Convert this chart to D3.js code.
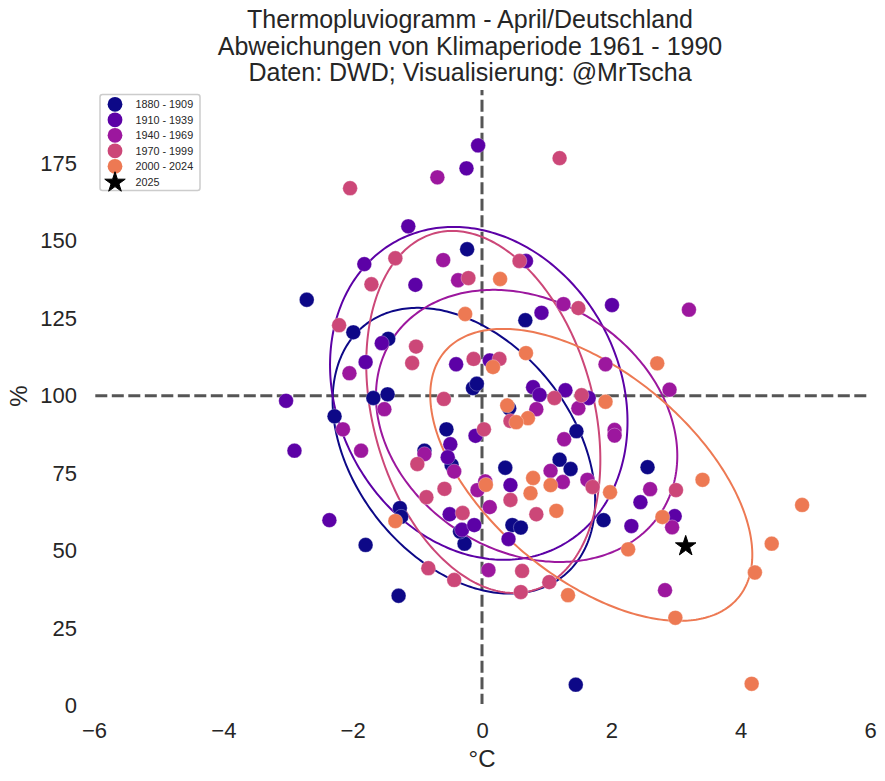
<!DOCTYPE html>
<html>
<head>
<meta charset="utf-8">
<script src="https://d3js.org/d3.v7.min.js"></script>
<style>
  body { margin: 0; background: white; }
  text { font-family: "Liberation Sans", Arial, sans-serif; fill: #262626; }
</style>
</head>
<body>
<script>
// April temperature (deg C) and precipitation (%) anomalies
var labels = ["1880 - 1909", "1910 - 1939", "1940 - 1969", "1970 - 1999", "2000 - 2024"];
var colors = ["#0d0887", "#5c01a6", "#9c179e", "#cc4778", "#ed7953"];

var temp1880 = [1.45, -1.29, -1.80, -1.27, -1.25, -2.28, -1.68, -1.46, -0.89, -0.55, -0.47, -0.14, -0.08, -0.27, -0.34, -0.23, 0.67, -1.99, -1.45, -2.71, 0.42, 1.46, 0.36, 1.20, 1.37, 2.56, 1.88, 0.47, 0.60];
var prec1880 = [6.8, 35.5, 51.9, 63.8, 61, 93.4, 99.3, 100.5, 82.3, 89.2, 77.7, 102.5, 103.9, 52.3, 56.2, 147.3, 124.4, 120.5, 118.4, 131, 96, 88.6, 76.8, 79.4, 76.4, 77, 59.9, 58.3, 57.5];

var temp1910 = [-0.06, -0.24, -1.14, -1.82, -1.03, 0.68, 0.92, 2.01, -1.55, -1.80, -3.03, -2.36, -2.90, -0.40, 0.12, -0.10, -0.49, -0.53, -0.50, -0.31, -0.12, 0.44, 0.41, 0.79, 0.89, 1.29, 1.65, 2.45, 2.31, 2.98];
var prec1910 = [180.8, 173.4, 154.7, 142.5, 135.8, 143.5, 126.8, 129.3, 117, 110.9, 98.4, 59.9, 82.3, 110.2, 111.4, 87.1, 84.4, 80.2, 61.8, 56.8, 58.3, 71.2, 53.8, 102.8, 100.3, 101.8, 99.3, 65.7, 58, 61.2];

var temp1940 = [-0.69, -0.60, -0.37, 1.26, 3.20, 2.90, 1.91, -2.05, -1.51, -2.15, -1.87, -0.89, -0.43, -0.07, 0.05, 0.12, 0.10, 0.84, 1.49, 1.27, 2.05, 2.05, 1.06, 1.25, 1.63, 2.60, 2.94, 2.83];
var prec1940 = [170.5, 143.8, 137.3, 129.6, 127.8, 102, 110.2, 107.3, 95.7, 89.2, 82.3, 81.2, 75.6, 69.6, 72.4, 64.1, 43.8, 95.7, 96, 86, 89, 87.2, 75.8, 72.2, 72.9, 69.9, 57.6, 37.3];

var temp1970 = [-2.04, 1.20, -1.71, -1.34, -0.21, 0.58, 1.49, -2.21, -1.02, -1.08, -0.13, -0.59, 0.03, -1.00, -0.58, -0.86, -0.30, -0.83, -0.43, 0.27, 1.12, 1.54, 0.44, 0.44, 0.84, 0.62, 0.60, 1.04, 1.71, 3.00];
var prec1970 = [167, 176.7, 136, 144.4, 138, 143.5, 128.3, 122.8, 115.9, 110.6, 111.9, 99, 89.2, 78, 70, 67.3, 62.2, 44.4, 40.6, 111.9, 99.3, 100.2, 91.9, 66.4, 61.8, 43.5, 36.7, 39.9, 70.6, 69.6];

var temp2000 = [0.28, -0.26, 2.71, 0.68, 0.17, 0.39, 1.91, 0.71, 0.53, 0.06, 0.79, 0.75, 1.06, 1.15, 1.98, 2.79, 2.26, 1.33, 3.41, 4.95, 4.48, 4.22, 4.17, 2.99, -1.34];
var prec2000 = [137.7, 126.4, 110.5, 113.8, 109.3, 96.9, 98.1, 92.8, 91.5, 71.3, 73.5, 68.6, 71.2, 62.9, 68.9, 60.9, 50.5, 35.7, 72.9, 64.8, 52.3, 43, 7.1, 28.4, 59.6];

var temp2025 = [3.15];
var prec2025 = [51.5];

// ellipse centre, spread and correlation per period
var ellMeanT = [-0.28, -0.05, 0.69, 0.02, 1.69];
var ellMeanP = [82.3, 100.8, 90.3, 94.8, 74.5];
var ellSpreadT = [2.03, 2.30, 2.33, 1.81, 2.49];
var ellSpreadP = [46.1, 53.7, 43.9, 58.4, 47.1];
var ellRho = [-0.35, -0.17, -0.22, -0.265, -0.547];

var xTicks = [-6, -4, -2, 0, 2, 4, 6];
var yTicks = [0, 25, 50, 75, 100, 125, 150, 175];
var titleLines = ["Thermopluviogramm - April/Deutschland", "Abweichungen von Klimaperiode 1961 - 1990", "Daten: DWD; Visualisierung: @MrTscha"];

var temps = [temp1880, temp1910, temp1940, temp1970, temp2000];
var precs = [prec1880, prec1910, prec1940, prec1970, prec2000];

var w = 885, h = 781;

var svg = d3.select("body").append("svg")
    .attr("width", w)
    .attr("height", h);

var x = d3.scaleLinear().domain([-6, 6]).range([94, 870]);
var y = d3.scaleLinear().domain([-2, 199]).range([712, 89]);

// Draw axes without spines
var xAxis = svg.append("g")
    .attr("transform", "translate(0," + y(-2) + ")")
    .call(d3.axisBottom(x).tickValues(xTicks).tickSize(0).tickPadding(10));
var yAxis = svg.append("g")
    .attr("transform", "translate(" + x(-6) + ",0)")
    .call(d3.axisLeft(y).tickValues(yTicks).tickSize(0).tickPadding(17));
xAxis.select(".domain").remove();
yAxis.select(".domain").remove();
svg.selectAll(".tick text").style("font-size", "22px").style("font-family", null);

// Draw dashed zero lines
svg.append("line")
    .attr("x1", x(-6)).attr("x2", x(6))
    .attr("y1", y(100)).attr("y2", y(100))
    .attr("stroke", "#555555")
    .attr("stroke-width", 3)
    .attr("stroke-dasharray", "12,4.5")
    .attr("stroke-dashoffset", 15.2);
svg.append("line")
    .attr("x1", x(0)).attr("x2", x(0))
    .attr("y1", 90).attr("y2", 704)
    .attr("stroke", "#555555")
    .attr("stroke-width", 3)
    .attr("stroke-dasharray", "12,4.5")
    .attr("stroke-dashoffset", 6.8);

// Draw ellipses, points go on top of them
var ellipseLine = d3.line();

function ellipsePath(i) {
    var rho = ellRho[i];
    var pts = d3.range(0, 2 * Math.PI + 0.02, 0.02).map(function(t) {
        return [
            x(ellMeanT[i] + ellSpreadT[i] * Math.cos(t)),
            y(ellMeanP[i] + ellSpreadP[i] * (rho * Math.cos(t) + Math.sqrt(1 - rho * rho) * Math.sin(t)))
        ];
    });
    return ellipseLine(pts);
}

labels.forEach(function(label, i) {
    svg.append("path")
        .attr("d", ellipsePath(i))
        .attr("fill", "none")
        .attr("stroke", colors[i])
        .attr("stroke-width", 2);
});

labels.forEach(function(label, i) {
    svg.append("g").selectAll("circle")
        .data(temps[i])
        .enter().append("circle")
        .attr("cx", function(d) { return x(d); })
        .attr("cy", function(d, j) { return y(precs[i][j]); })
        .attr("r", 7.4)
        .attr("fill", colors[i])
        .attr("stroke", "white")
        .attr("stroke-width", 0.3);
});

// Draw 2025 star
var star = d3.symbol().type(d3.symbolStar).size(130);
svg.append("path")
    .attr("d", star())
    .attr("transform", "translate(" + x(temp2025[0]) + "," + y(prec2025[0]) + ")")
    .attr("fill", "black")
    .attr("stroke", "black")
    .attr("stroke-width", 1);

// Draw titles and axis labels
svg.selectAll(".title")
    .data(titleLines)
    .enter().append("text")
    .attr("class", "title")
    .attr("x", 470)
    .attr("y", function(d, i) { return 28 + i * 26.7; })
    .attr("text-anchor", "middle")
    .style("font-size", "25px")
    .text(function(d) { return d; });

svg.append("text")
    .attr("x", 482)
    .attr("y", 767)
    .attr("text-anchor", "middle")
    .style("font-size", "24px")
    .text("°C");

svg.append("text")
    .attr("transform", "translate(27,396) rotate(-90)")
    .attr("text-anchor", "middle")
    .style("font-size", "24px")
    .text("%");

// Draw legend
svg.append("rect")
    .attr("x", 100).attr("y", 94.5)
    .attr("width", 100).attr("height", 96)
    .attr("rx", 2.5)
    .attr("fill", "white")
    .attr("stroke", "#cccccc")
    .attr("stroke-width", 1.5);

labels.forEach(function(label, i) {
    svg.append("circle")
        .attr("cx", 115)
        .attr("cy", 104.3 + i * 15.5)
        .attr("r", 7.4)
        .attr("fill", colors[i]);
    svg.append("text")
        .attr("x", 135.5)
        .attr("y", 108 + i * 15.5)
        .style("font-size", "10.8px")
        .text(label);
});
svg.append("path")
    .attr("d", star())
    .attr("transform", "translate(115,182.5)")
    .attr("fill", "black")
    .attr("stroke", "black")
    .attr("stroke-width", 1);
svg.append("text")
    .attr("x", 135.5)
    .attr("y", 185.5)
    .style("font-size", "10.8px")
    .text("2025");
</script>
</body>
</html>
